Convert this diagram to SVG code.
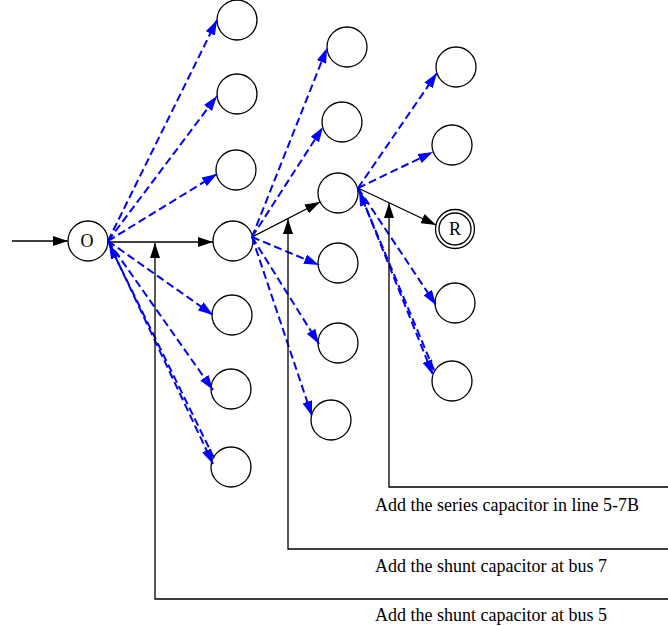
<svg xmlns="http://www.w3.org/2000/svg" width="668" height="626" viewBox="0 0 668 626">
<style>
.nd{fill:#fff;stroke:#000;stroke-width:1.3}
.lb{font-family:"Liberation Serif","Times New Roman",serif;font-size:18px;fill:#000}
.sol{fill:none;stroke:#000;stroke-width:1.3}
.dsh{fill:none;stroke:#0000ff;stroke-width:2;stroke-dasharray:8 4}
.ba{marker-end:url(#ab)}
.bl{marker-end:url(#abl)}
</style>
<defs>
<marker id="ab" markerUnits="userSpaceOnUse" markerWidth="15" markerHeight="10" refX="15" refY="5" orient="auto"><path d="M0,0 L15,5 L0,10 z" fill="#000"/></marker>
<marker id="abl" markerUnits="userSpaceOnUse" markerWidth="15" markerHeight="10" refX="15" refY="5" orient="auto"><path d="M0,0 L15,5 L0,10 z" fill="#0000ff"/></marker>
</defs>
<g id="nodes">
<g id="nO"><circle class="nd" cx="88" cy="241" r="20"/><text class="lb" x="87" y="247" text-anchor="middle">O</text></g>
<g id="c1a"><circle class="nd" cx="237" cy="20" r="20"/></g>
<g id="c1b"><circle class="nd" cx="237" cy="94" r="20"/></g>
<g id="c1c"><circle class="nd" cx="236" cy="170" r="20"/></g>
<g id="c1d"><circle class="nd" cx="233" cy="241" r="20"/></g>
<g id="c1e"><circle class="nd" cx="232" cy="315" r="20"/></g>
<g id="c1f"><circle class="nd" cx="231" cy="389" r="20"/></g>
<g id="c1g"><circle class="nd" cx="231" cy="467" r="20"/></g>
<g id="c2a"><circle class="nd" cx="347" cy="47" r="20"/></g>
<g id="c2b"><circle class="nd" cx="342" cy="122" r="20"/></g>
<g id="c2c"><circle class="nd" cx="338" cy="193" r="20"/></g>
<g id="c2d"><circle class="nd" cx="338" cy="263" r="20"/></g>
<g id="c2e"><circle class="nd" cx="338" cy="343" r="20"/></g>
<g id="c2f"><circle class="nd" cx="331" cy="420" r="20"/></g>
<g id="c3a"><circle class="nd" cx="456" cy="67" r="20"/></g>
<g id="c3b"><circle class="nd" cx="452" cy="145" r="20"/></g>
<g id="nR"><circle class="nd" cx="455" cy="229" r="19.5"/><circle class="nd" cx="455" cy="229" r="16"/><text class="lb" x="455" y="235" text-anchor="middle">R</text></g>
<g id="c3d"><circle class="nd" cx="455" cy="303" r="20"/></g>
<g id="c3e"><circle class="nd" cx="452" cy="381" r="20"/></g>
</g>
<g id="connectors">
<line class="sol ba" x1="12" y1="241" x2="68" y2="241"/>
<line class="sol ba" x1="108" y1="242" x2="213" y2="242"/>
<line class="dsh bl" x1="108" y1="241" x2="217" y2="20"/>
<line class="dsh bl" x1="108" y1="241" x2="217" y2="96"/>
<line class="dsh bl" x1="108" y1="241" x2="217" y2="174"/>
<line class="dsh bl" x1="108" y1="241" x2="213" y2="315"/>
<line class="dsh bl" x1="108" y1="241" x2="213" y2="390"/>
<line class="dsh bl" x1="108" y1="241" x2="213" y2="464"/>
<line class="dsh bl" x1="214" y1="458" x2="109" y2="244"/>
<line class="sol ba" x1="252" y1="237" x2="320" y2="202"/>
<line class="dsh bl" x1="252" y1="237" x2="327" y2="48"/>
<line class="dsh bl" x1="252" y1="237" x2="323" y2="127"/>
<line class="dsh bl" x1="252" y1="237" x2="319" y2="265"/>
<line class="dsh bl" x1="252" y1="237" x2="319" y2="344"/>
<line class="dsh bl" x1="252" y1="237" x2="312" y2="416"/>
<line class="sol ba" x1="358" y1="188" x2="436" y2="225"/>
<line class="dsh bl" x1="358" y1="188" x2="437" y2="73"/>
<line class="dsh bl" x1="358" y1="188" x2="433" y2="152"/>
<line class="dsh bl" x1="358" y1="188" x2="436" y2="305"/>
<line class="dsh bl" x1="358" y1="188" x2="433" y2="375"/>
<line class="dsh bl" x1="434" y1="370" x2="359" y2="191"/>
<polyline class="sol ba" points="668,599 155,599 155,243"/>
<polyline class="sol ba" points="668,549 288,549 288,219"/>
<polyline class="sol ba" points="668,487 389,487 389,203"/>
</g>
<g id="labels">
<text class="lb" x="375" y="511">Add the series capacitor in line 5-7B</text>
<text class="lb" x="375" y="572">Add the shunt capacitor at bus 7</text>
<text class="lb" x="375" y="621">Add the shunt capacitor at bus 5</text>
</g>
</svg>
